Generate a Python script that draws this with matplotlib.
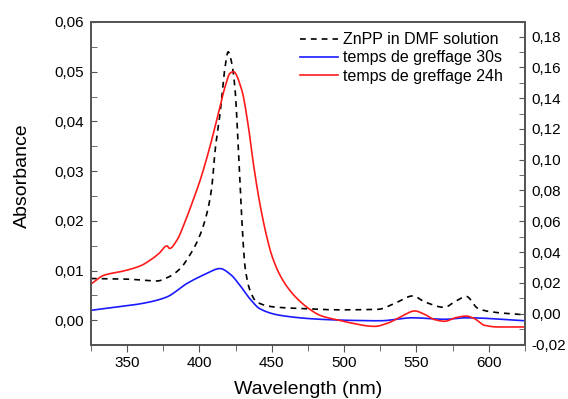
import matplotlib
matplotlib.use('Agg')
import numpy as np
import matplotlib.pyplot as plt
from matplotlib.ticker import MultipleLocator, FuncFormatter

plt.rcParams['font.family'] = ['Liberation Sans', 'DejaVu Sans']

# ZnPP in DMF solution (left axis)
wl_dmf = [325, 347.7, 360, 370.7, 378.7, 386.8, 392.5, 399.4, 405.2, 408.6,
          410.9, 414.3, 417.8, 419.9, 422.4, 424.7, 427.0, 428.1, 429.3,
          431.6, 435.0, 439.6, 451.0, 467.2, 497.1, 523.5, 535, 547.7, 555.7,
          569.5, 576.4, 584.5, 592.5, 601.7, 625]
abs_dmf = [0.0084, 0.0083, 0.0081, 0.0079, 0.0087, 0.0104, 0.0127, 0.0164, 0.0215, 0.0268,
           0.0342, 0.0416, 0.0510, 0.0540, 0.0517, 0.0463, 0.0342, 0.0275, 0.0205,
           0.0107, 0.0060, 0.0037, 0.0027, 0.0024, 0.0021, 0.0022, 0.0034, 0.0049, 0.0037,
           0.0026, 0.0037, 0.0048, 0.0024, 0.0017, 0.0011]

# temps de greffage 30s (left axis)
wl_30s = [325, 338.5, 352.3, 366, 377.6, 391.4, 402.8, 414.3, 421.2, 428.1,
          435.0, 441.9, 455.7, 483.3, 501.7, 524.7, 547.5, 569.5, 584.5, 625]
abs_30s = [0.0020, 0.0025, 0.0030, 0.0037, 0.0047, 0.0074, 0.0091, 0.0104, 0.0093, 0.0070,
           0.0043, 0.0023, 0.0010, 0.0002, 0.0000, -0.0001, 0.0005, 0.0002, 0.0005, -0.0001]

# temps de greffage 24h (right axis)
wl_24h = [325, 334, 347.7, 359.2, 366, 372, 377.6, 379.4, 384.5, 390.2,
          396, 400.6, 406.3, 413.2, 417.8, 421.2, 423.5, 429.3, 433.9, 437.3,
          442.0, 446.6, 450, 455.7, 462.6, 469.5, 476, 483.3, 490, 497.1,
          501.7, 521.3, 530.5, 539.7, 548.9, 555.7, 562.6, 569.5, 577.5, 584.5,
          590.2, 597.1, 606.3, 625]
abs_24h = [0.0191, 0.0249, 0.0277, 0.0310, 0.0347, 0.0390, 0.0440, 0.0423, 0.0477, 0.0600,
           0.0745, 0.0868, 0.1050, 0.1302, 0.1475, 0.1562, 0.1572, 0.1453, 0.1214, 0.0976,
           0.0705, 0.0499, 0.0380, 0.0250, 0.0150, 0.0080, 0.0030, -0.0011, -0.0030, -0.0044,
           -0.0055, -0.0083, -0.0061, -0.0018, 0.0017, -0.0005, -0.0039, -0.0050, -0.0026, -0.0016,
           -0.0033, -0.0076, -0.0087, -0.0087]


def smooth(x, y):
    # interpolation cubique monotone (type PCHIP) pour lisser les points lus
    x = np.asarray(x, float)
    y = np.asarray(y, float)
    xs = np.linspace(x[0], x[-1], 800)
    h = np.diff(x)
    d = np.diff(y) / h
    m = np.zeros_like(y)
    m[0], m[-1] = d[0], d[-1]
    for i in range(1, len(y) - 1):
        if d[i - 1] * d[i] > 0:
            w1 = 2 * h[i] + h[i - 1]
            w2 = h[i] + 2 * h[i - 1]
            m[i] = (w1 + w2) / (w1 / d[i - 1] + w2 / d[i])
    idx = np.clip(np.searchsorted(x, xs) - 1, 0, len(x) - 2)
    t = (xs - x[idx]) / h[idx]
    h00 = 2 * t**3 - 3 * t**2 + 1
    h10 = t**3 - 2 * t**2 + t
    h01 = -2 * t**3 + 3 * t**2
    h11 = t**3 - t**2
    ys = (h00 * y[idx] + h10 * h[idx] * m[idx] + h01 * y[idx + 1]
          + h11 * h[idx] * m[idx + 1])
    return xs, ys


def comma(v, pos):
    return f'{v:.2f}'.replace('.', ',')


fig = plt.figure(figsize=(5.68, 3.99), dpi=100)
ax = fig.add_axes([0.160, 0.135, 0.764, 0.810])
ax2 = ax.twinx()

l1, = ax.plot(*smooth(wl_dmf, abs_dmf), color='black', lw=1.2, dashes=(3.5, 3),
              label='ZnPP in DMF solution')
l2, = ax.plot(*smooth(wl_30s, abs_30s), color='#1a1aff', lw=1.2,
              label='temps de greffage 30s')
l3, = ax2.plot(*smooth(wl_24h, abs_24h), color='#ff1a1a', lw=1.2,
               label='temps de greffage 24h')

ax.set_xlim(325, 625)
ax.set_ylim(-0.005, 0.06)
ax2.set_ylim(-0.0205, 0.1895)

ax.xaxis.set_major_locator(MultipleLocator(50))
ax.xaxis.set_minor_locator(MultipleLocator(25))
ax.yaxis.set_major_locator(MultipleLocator(0.01))
ax.yaxis.set_minor_locator(MultipleLocator(0.005))
ax2.yaxis.set_major_locator(MultipleLocator(0.02))
ax2.yaxis.set_minor_locator(MultipleLocator(0.01))
ax.yaxis.set_major_formatter(FuncFormatter(comma))
ax2.yaxis.set_major_formatter(FuncFormatter(comma))

spine_c = '#555555'
for a in (ax, ax2):
    for s in a.spines.values():
        s.set_color(spine_c)
        s.set_linewidth(1.3)

ax.tick_params(axis='x', which='both', direction='out', colors=spine_c,
               labelcolor='black', labelsize=11, top=False, pad=3)
ax.tick_params(axis='x', which='major', length=5)
ax.tick_params(axis='x', which='minor', length=4)
ax.tick_params(axis='y', which='both', direction='in', length=4,
               colors=spine_c, labelcolor='black', labelsize=11, pad=5)
ax2.tick_params(axis='y', which='both', direction='in', length=4,
                colors=spine_c, labelcolor='black', labelsize=11, pad=5)

ax.set_xlabel('Wavelength (nm)', fontsize=14)
ax.set_ylabel('Absorbance', fontsize=14)
ax.xaxis.set_label_coords(0.5, -0.111)
ax.yaxis.set_label_coords(-0.138, 0.523)

ax.legend(handles=[l1, l2, l3], loc='upper right', frameon=False, fontsize=11.5,
          handlelength=2.4, handletextpad=0.3, labelspacing=0.2,
          bbox_to_anchor=(0.95, 0.968), borderaxespad=0, borderpad=0)

fig.savefig('out.png', dpi=100)
